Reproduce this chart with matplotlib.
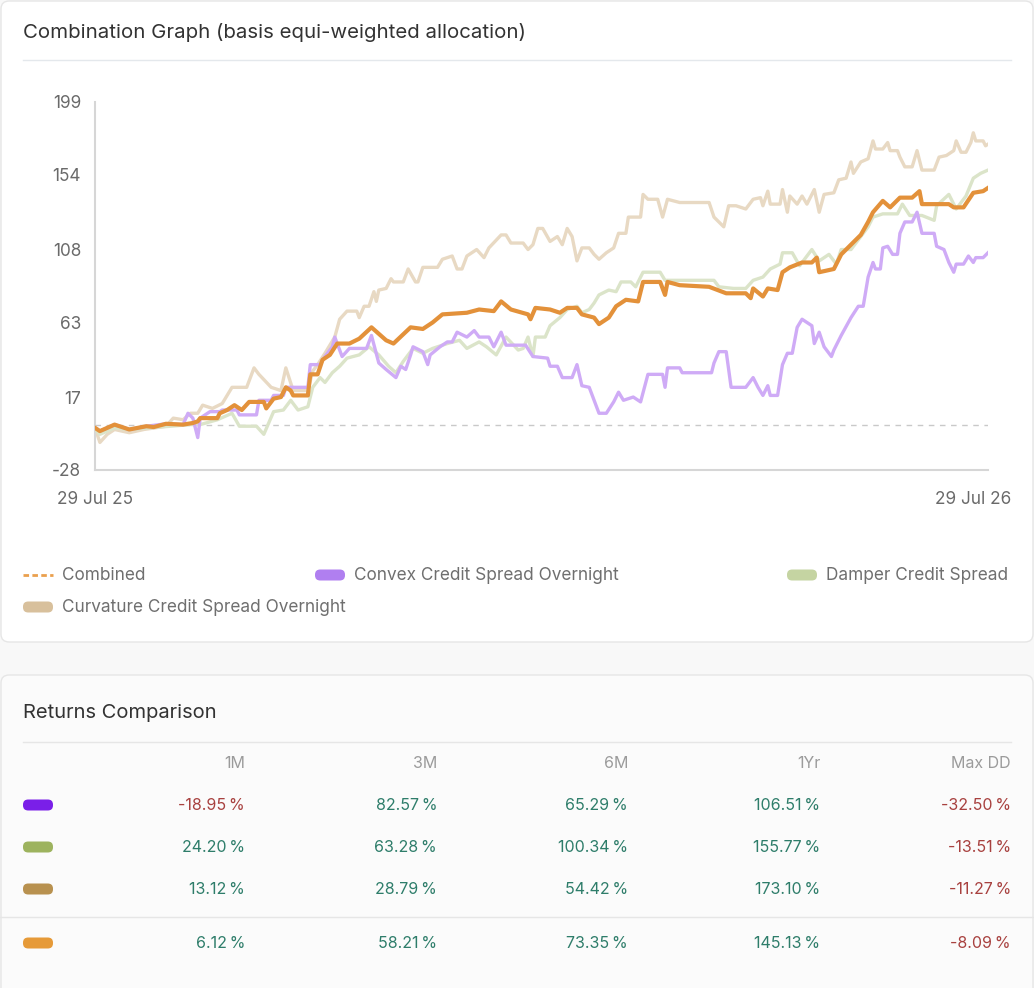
import datetime as dt
import numpy as np
import matplotlib
matplotlib.use("Agg")
from matplotlib import pyplot as plt
from matplotlib.patches import FancyBboxPatch
import matplotlib.transforms as mtransforms

plt.rcParams['font.family'] = ['Inter', 'DejaVu Sans']

start = dt.date(2025, 7, 29)

# day offsets from start, and value of each series
comb_days = [0, 2, 8, 14, 21, 24, 29, 36, 40, 42, 43, 50, 51, 54, 57, 60, 63, 69, 70, 73, 76, 78, 80, 81, 87, 88, 91, 93, 96,
             99, 104, 108, 113, 119, 122, 129, 134, 138, 142, 152, 157, 163, 166, 170, 177, 178, 180, 186, 190, 193, 197,
             199, 204, 206, 210, 213, 217, 222, 224, 231, 233, 234, 239, 251, 258, 266, 268, 269, 273, 275, 279, 281, 284,
             289, 293, 295, 296, 302, 305, 309, 313, 316, 318, 322, 325, 329, 334, 337, 338, 349, 351, 355, 359, 363, 365]
comb_vals = [-2, -4, 0, -3, -1, -1.5, 0.5, 0, 1, 2, 4, 4, 7, 9, 12, 9, 14, 14, 10, 16, 17, 23, 21, 18, 18, 31, 31, 40, 43,
             50, 50, 53, 60, 52, 50, 60, 59, 63, 68, 69, 71, 70, 76, 71, 68, 65, 72, 71, 69, 72, 72,
             68, 66, 62, 66, 73, 77, 76, 88, 88, 80, 88, 86, 85, 81, 81, 78, 84, 79, 84, 83, 94, 97,
             100, 100, 103, 94, 96, 105, 111, 117, 125, 131, 138, 134, 140, 140, 144, 136, 136, 134, 134, 143, 144, 146]

convex_days = [0, 2, 8, 14, 21, 29, 36, 38, 40, 42, 43, 47, 51, 52, 58, 59, 66, 67, 72, 73, 77, 78, 87, 88, 92, 94, 97, 98,
               101, 104, 111, 113, 116, 119, 123, 125, 127, 129, 130, 134, 136, 137, 141, 144, 146, 148, 152, 155, 157,
               161, 163, 166, 168, 176, 179, 185, 186, 189, 191, 195, 197, 199, 202, 204, 206, 209, 212, 214, 216, 220,
               223, 226, 232, 233, 234, 239, 240, 252, 253, 255, 258, 260, 266, 269, 271, 273, 275, 276, 279, 281, 283,
               285, 287, 289, 293, 294, 296, 298, 301, 302, 305, 309, 312, 314, 316, 318, 319, 321, 322, 324, 326, 328,
               329, 331, 334, 336, 338, 343, 344, 347, 349, 351, 352, 355, 357, 359, 360, 363, 365]
convex_vals = [-2, -4, 0, -3, -1, 0.5, 0, 7, 4, -8, 4, 8, 8, 9, 9, 6, 6, 15, 15, 18, 18, 23, 23, 37, 37, 42, 48, 54,
               42, 47, 47, 55, 38, 34, 29, 36, 34, 43, 48, 45, 37, 43, 48, 51, 51, 57, 54, 58, 54,
               54, 48, 57, 49, 49, 42, 41, 36, 36, 29, 29, 37, 24, 23, 15, 7, 7, 14, 20, 15, 17,
               14, 31, 31, 23, 35, 35, 32, 32, 38, 45, 45, 23, 23, 29, 23, 18, 24, 18, 18, 37, 44,
               44, 60, 65, 61, 50, 57, 48, 42, 46, 55, 66, 73, 73, 91, 100, 96, 96, 109, 110, 105, 105,
               118, 125, 125, 131, 118, 118, 110, 108, 100, 94, 99, 99, 104, 100, 103, 103, 106]

damper_days = [0, 2, 8, 14, 22, 31, 39, 43, 50, 56, 59, 66, 69, 73, 77, 80, 83, 87, 89, 92, 94, 97, 100, 103, 108, 112,
               116, 120, 123, 126, 130, 134, 138, 144, 149, 152, 157, 160, 164, 168, 173, 175, 177, 179, 180, 184, 186,
               190, 193, 197, 199, 202, 204, 206, 210, 213, 215, 219, 221, 224, 231, 233, 253, 255, 261, 266, 269, 273,
               276, 280, 281, 285, 288, 293, 296, 300, 303, 305, 309, 313, 316, 318, 322, 328, 330, 333, 338, 343, 344,
               349, 352, 356, 359, 362, 365]
damper_vals = [-3, -6, -2, -3, -2, -1, 0, 0, 3, 7, -1, -1, -6, 8, 9, 15, 9, 11, 23, 29, 26, 32, 36, 41, 43, 48,
               43, 36, 32, 39, 47, 44, 47, 50, 52, 47, 51, 48, 43, 54, 46, 47, 54, 42, 54, 54, 61,
               66, 71, 73, 69, 71, 75, 80, 83, 82, 88, 88, 85, 94, 94, 89, 89, 85, 84, 84, 89, 91,
               96, 99, 106, 106, 98, 108, 101, 105, 99, 108, 108, 116, 122, 128, 130, 130, 136, 129, 129, 126, 135,
               142, 133, 141, 152, 155, 157]

curv_days = [0, 2, 5, 8, 14, 20, 29, 32, 36, 39, 42, 44, 48, 52, 56, 62, 65, 67, 72, 76, 78, 81, 87, 89, 91, 94, 98,
             100, 103, 107, 108, 110, 112, 114, 115, 116, 119, 121, 122, 126, 128, 131, 132, 134, 140, 142, 146, 148,
             150, 152, 156, 159, 161, 166, 168, 170, 175, 177, 179, 181, 183, 186, 189, 191, 193, 195, 197, 199, 202,
             204, 206, 209, 212, 214, 217, 218, 223, 224, 226, 230, 232, 234, 239, 251, 253, 255, 257, 259, 262, 266,
             269, 272, 273, 275, 276, 280, 281, 283, 284, 287, 289, 291, 294, 296, 298, 302, 304, 307, 309, 310, 313,
             316, 318, 319, 322, 324, 325, 328, 329, 331, 334, 336, 338, 343, 345, 348, 351, 352, 354, 356, 358, 359,
             360, 363, 364, 365]
curv_vals = [-2, -11, -6, -3, -5, -3, -1, 4, 3, 7, 7, 12, 10, 13, 23, 23, 35, 31, 23, 21, 35, 21, 21, 33, 37, 44, 54,
             65, 70, 70, 66, 73, 73, 82, 76, 83, 84, 90, 88, 88, 96, 88, 88, 97, 97, 102, 104, 96,
             96, 104, 108, 103, 109, 117, 117, 112, 112, 108, 111, 121, 121, 113, 116, 111, 121, 116, 101, 109, 109,
             105, 102, 106, 109, 118, 118, 128, 128, 142, 139, 139, 128, 139, 137, 137, 128, 125, 122, 135, 135, 133,
             139, 140, 135, 144, 136, 136, 145, 131, 141, 136, 141, 136, 145, 131, 142, 143, 151, 152, 162, 155, 162,
             164, 175, 170, 170, 174, 169, 169, 165, 159, 159, 169, 157, 157, 165, 166, 169, 175, 168, 168, 174, 180,
             175, 175, 172, 173]

series_names = ["Convex Credit Spread Overnight", "Damper Credit Spread", "Curvature Credit Spread Overnight"]
y_ticks = [-28, 17, 63, 108, 154, 199]

col_heads = ["1M", "3M", "6M", "1Yr", "Max DD"]
ret_convex = ["-18.95", "82.57", "65.29", "106.51", "-32.50"]
ret_damper = ["24.20", "63.28", "100.34", "155.77", "-13.51"]
ret_curv = ["13.12", "28.79", "54.42", "173.10", "-11.27"]
ret_comb = ["6.12", "58.21", "73.35", "145.13", "-8.09"]

c_comb = "#e3913a"
c_convex = "#cfabf6"
c_damper = "#dbe4c9"
c_curv = "#e8d9c3"

W, H = 1034, 988
fig = plt.figure(figsize=(W / 100, H / 100), dpi=100)
fig.patch.set_facecolor("#f8f8f8")


def fx(px):
    return px / W


def fy(py):
    return 1 - py / H


# cards
card1 = FancyBboxPatch((fx(1), fy(642)), fx(1032), (642 - 1) / H, boxstyle="round,pad=0,rounding_size=0.008",
                       transform=fig.transFigure, facecolor="white", edgecolor="#e6e6e6", lw=1, zorder=-5)
card2 = FancyBboxPatch((fx(1), fy(1000)), fx(1032), (1000 - 675) / H, boxstyle="round,pad=0,rounding_size=0.008",
                       transform=fig.transFigure, facecolor="#fbfbfb", edgecolor="#e6e6e6", lw=1, zorder=-5)
fig.patches.extend([card1, card2])

fig.text(fx(23), fy(33), "Combination Graph (basis equi-weighted allocation)", fontsize=14.7, color="#333333",
         va="center", ha="left")
fig.add_artist(plt.Line2D([fx(23), fx(1011)], [fy(60), fy(60)], transform=fig.transFigure, color="#e4e8ec", lw=1))

# chart
ax = fig.add_axes([fx(95), fy(470), fx(988 - 95), (470 - 102) / H])
ax.set_zorder(2)
ax.set_facecolor("white")


def to_dates(days):
    return [start + dt.timedelta(days=d) for d in days]


ax.plot(to_dates(curv_days), curv_vals, color=c_curv, lw=2.4, zorder=2)
ax.plot(to_dates(damper_days), damper_vals, color=c_damper, lw=2.4, zorder=3)
ax.plot(to_dates(convex_days), convex_vals, color=c_convex, lw=2.4, zorder=4)
ax.plot(to_dates(comb_days), comb_vals, color=c_comb, lw=3, zorder=5)
ax.axhline(0, color="#c9c9c9", lw=1, ls=(0, (4, 4)), zorder=1)

end = start + dt.timedelta(days=365)
ax.set_xlim(start, end)
ax.set_ylim(-28, 199)
ax.set_yticks(y_ticks)
ax.set_yticklabels([str(t) for t in y_ticks])
ax.set_xticks([start, end])
ax.set_xticklabels(["29 Jul 25", "29 Jul 26"])
ax.tick_params(axis="both", length=0, labelsize=12.4, labelcolor="#6a6a6a")
ax.tick_params(axis="y", pad=10)
ax.tick_params(axis="x", pad=15)
lab = ax.get_xticklabels()[1]
lab.set_transform(lab.get_transform() + mtransforms.ScaledTranslation(-0.15, 0, fig.dpi_scale_trans))
for s in ["top", "right"]:
    ax.spines[s].set_visible(False)
for s in ["left", "bottom"]:
    ax.spines[s].set_color("#d6d6d6")
    ax.spines[s].set_linewidth(1.5)

# legend


def pill(x, y, color, w=30, h=11):
    p = FancyBboxPatch((fx(x), fy(y + h / 2)), fx(w), h / H, boxstyle="round,pad=0,rounding_size=0.005",
                       transform=fig.transFigure, facecolor=color, edgecolor="none", mutation_aspect=W / H)
    fig.patches.append(p)


leg_col = "#6f6f6f"
fig.add_artist(plt.Line2D([fx(23), fx(53)], [fy(575), fy(575)], transform=fig.transFigure, color="#eaa04e",
                          lw=2, ls=(0, (2, 1.2))))
fig.text(fx(62), fy(575), "Combined", fontsize=12.4, color=leg_col, va="center")
pill(315, 575, "#b07ff0")
fig.text(fx(354), fy(575), series_names[0], fontsize=12.4, color=leg_col, va="center")
pill(787, 575, "#c5d4a2")
fig.text(fx(826), fy(575), series_names[1], fontsize=12.4, color=leg_col, va="center")
pill(23, 607, "#d8c09c")
fig.text(fx(62), fy(607), series_names[2], fontsize=12.4, color=leg_col, va="center")

# returns table
fig.text(fx(23), fy(713), "Returns Comparison", fontsize=14.5, color="#333333", va="center")
fig.add_artist(plt.Line2D([fx(23), fx(1011)], [fy(742), fy(742)], transform=fig.transFigure, color="#e6e6e6", lw=1))
fig.add_artist(plt.Line2D([fx(0), fx(1034)], [fy(917), fy(917)], transform=fig.transFigure, color="#e6e6e6", lw=1))

col_x = [245, 437, 628, 820, 1011]
for cx, h in zip(col_x, col_heads):
    fig.text(fx(cx), fy(764), h, fontsize=11.5, color="#9b9b9b", ha="right", va="center")

rows = [(ret_convex, "#7a1fe8", 805), (ret_damper, "#9db35e", 847), (ret_curv, "#b8914f", 889),
        (ret_comb, "#e69a38", 943)]
for vals, color, ry in rows:
    pill(23, ry, color)
    for cx, v in zip(col_x, vals):
        tc = "#a8413f" if v.startswith("-") else "#2e7d6a"
        fig.text(fx(cx), fy(ry), v + "\u2009%", fontsize=11.5, color=tc, ha="right", va="center")

fig.savefig("out.png", dpi=100, facecolor=fig.get_facecolor())
